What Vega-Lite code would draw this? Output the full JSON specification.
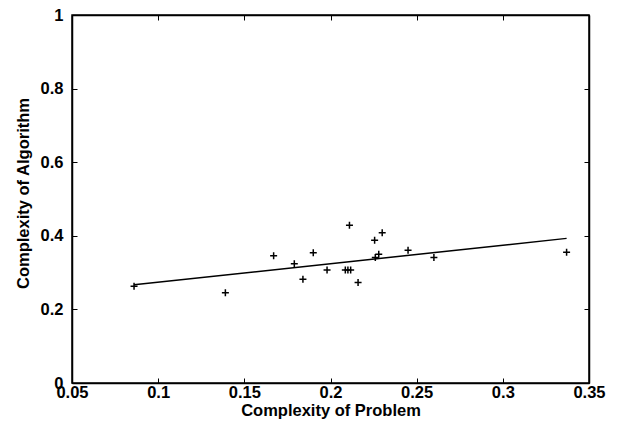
{
  "$schema": "https://vega.github.io/schema/vega-lite/v6.json",
  "width": 517,
  "height": 368,
  "autosize": {"type": "none"},
  "padding": {"left": 72, "top": 15, "right": 39, "bottom": 41},
  "background": "white",
  "config": {
    "view": {"stroke": "#000", "strokeWidth": 1.5},
    "axis": {
      "grid": false,
      "domainColor": "#000",
      "domainWidth": 1.5,
      "tickColor": "#000",
      "tickSize": -5,
      "tickWidth": 1,
      "labelFont": "Liberation Sans",
      "labelFontSize": 16.5,
      "labelFontWeight": "bold",
      "labelColor": "#000",
      "titleFont": "Liberation Sans",
      "titleFontSize": 16.5,
      "titleFontWeight": "bold",
      "titleColor": "#000",
      "labelFlush": false,
      "labelOverlap": false
    }
  },
  "datasets": {
    "points": [
      {"x": 0.086, "y": 0.263},
      {"x": 0.139, "y": 0.245},
      {"x": 0.167, "y": 0.346},
      {"x": 0.179, "y": 0.324},
      {"x": 0.184, "y": 0.282},
      {"x": 0.190, "y": 0.354},
      {"x": 0.198, "y": 0.307},
      {"x": 0.2086, "y": 0.307},
      {"x": 0.2101, "y": 0.307},
      {"x": 0.2117, "y": 0.307},
      {"x": 0.211, "y": 0.429},
      {"x": 0.216, "y": 0.273},
      {"x": 0.2256, "y": 0.388},
      {"x": 0.230, "y": 0.408},
      {"x": 0.228, "y": 0.350},
      {"x": 0.226, "y": 0.341},
      {"x": 0.245, "y": 0.361},
      {"x": 0.260, "y": 0.341},
      {"x": 0.337, "y": 0.355}
    ],
    "fit": [
      {"x": 0.086, "y": 0.267},
      {"x": 0.337, "y": 0.393}
    ]
  },
  "layer": [
    {
      "data": {"name": "points"},
      "mark": {"type": "point", "shape": "M-1,0L1,0M0,-1L0,1", "filled": false, "stroke": "#000", "strokeWidth": 1.5, "size": 49, "opacity": 1},
      "encoding": {
        "x": {
          "field": "x", "type": "quantitative",
          "scale": {"domain": [0.05, 0.35], "nice": false, "zero": false},
          "axis": {
            "orient": "bottom",
            "values": [0.05, 0.1, 0.15, 0.2, 0.25, 0.3, 0.35],
            "format": ".2~f",
            "labelPadding": 6,
            "title": "Complexity of Problem",
            "titleBaseline": "alphabetic",
            "titleY": 32
          }
        },
        "y": {
          "field": "y", "type": "quantitative",
          "scale": {"domain": [0, 1], "nice": false, "zero": false},
          "axis": {
            "orient": "left",
            "values": [0, 0.2, 0.4, 0.6, 0.8, 1],
            "format": ".1~f",
            "labelPadding": 14,
            "title": "Complexity of Algorithm",
            "titleBaseline": "alphabetic",
            "titleX": -44,
            "titleY": 178
          }
        }
      }
    },
    {
      "data": {"name": "fit"},
      "mark": {"type": "line", "color": "#000", "strokeWidth": 1.5},
      "encoding": {
        "x": {
          "field": "x", "type": "quantitative",
          "scale": {"domain": [0.05, 0.35], "nice": false, "zero": false},
          "axis": {"orient": "top", "values": [0.05, 0.1, 0.15, 0.2, 0.25, 0.3, 0.35], "labels": false, "title": null}
        },
        "y": {
          "field": "y", "type": "quantitative",
          "scale": {"domain": [0, 1], "nice": false, "zero": false},
          "axis": {"orient": "right", "values": [0, 0.2, 0.4, 0.6, 0.8, 1], "labels": false, "title": null}
        }
      }
    }
  ],
  "resolve": {"axis": {"x": "independent", "y": "independent"}}
}
